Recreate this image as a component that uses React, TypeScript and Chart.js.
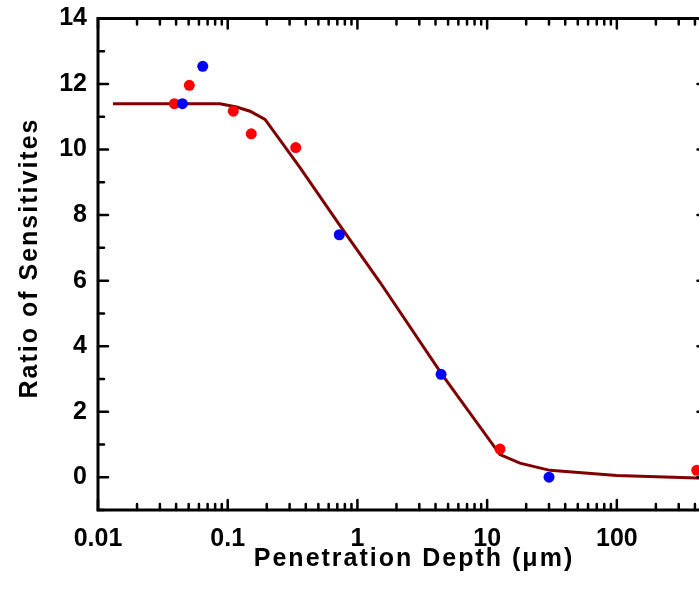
import React, { useEffect, useRef } from "react";
import { Chart, registerables } from "chart.js";

Chart.register(...registerables);

// ---- data ----
const xTickValues = [0.01, 0.1, 1, 10, 100];
const yTickValues = [0, 2, 4, 6, 8, 10, 12, 14];
const yMinorValues = [-1, 1, 3, 5, 7, 9, 11, 13];

const redX = [0.0388, 0.0506, 0.1104, 0.152, 0.3345, 12.57, 413];
const redY = [11.4, 11.96, 11.17, 10.48, 10.06, 0.86, 0.21];

const blueX = [0.0447, 0.0642, 0.7253, 4.415, 30.0];
const blueY = [11.4, 12.54, 7.4, 3.14, 0.0];

const fitX = [0.01305, 0.03, 0.0612, 0.0873, 0.117, 0.1486, 0.194, 0.361, 0.734, 1.494, 4.47, 12.57, 17.9, 30.5, 99.8, 413, 460];
const fitY = [11.4, 11.4, 11.4, 11.4, 11.3, 11.17, 10.92, 9.45, 7.68, 5.95, 3.15, 0.69, 0.43, 0.21, 0.05, -0.02, -0.03];

const xTitle = "Penetration Depth (\u03BCm)";
const yTitle = "Ratio of Sensitivites";

const FONT = "'Liberation Sans', Arial, Helvetica, sans-serif";

const framePlugin = {
  id: "frame",
  afterDatasetsDraw(chart: any) {
    const { ctx, chartArea, scales } = chart;
    const xs = scales.x;
    const ys = scales.y;
    const { left, right, top, bottom } = chartArea;
    ctx.save();
    ctx.strokeStyle = "#000";
    ctx.lineCap = "round";
    const major = 10;
    const minor = 6;
    ctx.lineWidth = 2.5;
    const drawX = (v: number, len: number) => {
      const px = xs.getPixelForValue(v);
      ctx.beginPath();
      ctx.moveTo(px, bottom);
      ctx.lineTo(px, bottom - len);
      ctx.moveTo(px, top);
      ctx.lineTo(px, top + len);
      ctx.stroke();
    };
    const drawY = (v: number, len: number) => {
      const py = ys.getPixelForValue(v);
      ctx.beginPath();
      ctx.moveTo(left, py);
      ctx.lineTo(left + len, py);
      ctx.moveTo(right, py);
      ctx.lineTo(right - len, py);
      ctx.stroke();
    };
    xTickValues.forEach((d) => {
      drawX(d, major);
      for (let m = 2; m <= 9; m++) {
        const v = d * m;
        if (v < xs.max) drawX(v, minor);
      }
    });
    yTickValues.forEach((v) => drawY(v, major));
    yMinorValues.forEach((v) => drawY(v, minor));
    ctx.lineWidth = 3;
    ctx.lineCap = "butt";
    ctx.strokeRect(left, top, right - left, bottom - top);
    ctx.fillStyle = "#000";
    ctx.font = `bold 25px ${FONT}`;
    (ctx as any).letterSpacing = "2px";
    ctx.textAlign = "center";
    ctx.textBaseline = "alphabetic";
    ctx.fillText(xTitle, 414, 566);
    ctx.translate(37, 258);
    ctx.rotate(-Math.PI / 2);
    ctx.fillText(yTitle, 0, 0);
    ctx.restore();
  },
};

export default function App() {
  const ref = useRef<HTMLCanvasElement | null>(null);
  useEffect(() => {
    document.body.style.margin = "0";
    if (!ref.current) return;
    const chart = new Chart(ref.current, {
      type: "scatter",
      data: {
        datasets: [
          {
            label: "blue",
            data: blueX.map((x, i) => ({ x, y: blueY[i] })),
            backgroundColor: "#0000ff",
            borderColor: "#0000ff",
            pointRadius: 5.5,
            pointBorderWidth: 0,
            clip: false,
          },
          {
            label: "red",
            data: redX.map((x, i) => ({ x, y: redY[i] })),
            backgroundColor: "#ff0000",
            borderColor: "#ff0000",
            pointRadius: 5.5,
            pointBorderWidth: 0,
            clip: false,
          },
          {
            label: "fit",
            data: fitX.map((x, i) => ({ x, y: fitY[i] })),
            showLine: true,
            borderColor: "#800000",
            backgroundColor: "#800000",
            borderWidth: 3,
            pointRadius: 0,
            tension: 0,
          },
        ],
      } as any,
      options: {
        responsive: false,
        animation: false,
        events: [],
        layout: { padding: { top: 17, right: 12.5, left: 0, bottom: 0 } },
        plugins: { legend: { display: false }, tooltip: { enabled: false } },
        scales: {
          x: {
            type: "logarithmic",
            min: 0.01,
            max: 500,
            grid: { display: false, drawTicks: false },
            border: { display: false },
            afterBuildTicks: (s: any) => {
              s.ticks = xTickValues.map((v) => ({ value: v }));
            },
            afterFit: (s: any) => {
              s.height = 84;
            },
            ticks: {
              color: "#000",
              padding: 14,
              maxRotation: 0,
              autoSkip: false,
              font: { family: FONT, size: 25, weight: "bold" },
              callback: (v: any) => String(v),
            },
          },
          y: {
            min: -1,
            max: 14,
            grid: { display: false, drawTicks: false },
            border: { display: false },
            afterBuildTicks: (s: any) => {
              s.ticks = yTickValues.map((v) => ({ value: v }));
            },
            afterFit: (s: any) => {
              s.width = 98;
            },
            ticks: {
              color: "#000",
              padding: 11,
              autoSkip: false,
              font: { family: FONT, size: 25, weight: "bold", lineHeight: 0.6 },
              callback: (v: any) => String(v),
            },
          },
        },
      } as any,
      plugins: [framePlugin],
    });
    return () => chart.destroy();
  }, []);
  return (
    <div style={{ position: "absolute", left: 0, top: 0, width: 699, height: 594, overflow: "hidden", background: "#fff" }}>
      <canvas ref={ref} width={720} height={594} style={{ display: "block" }} />
    </div>
  );
}
